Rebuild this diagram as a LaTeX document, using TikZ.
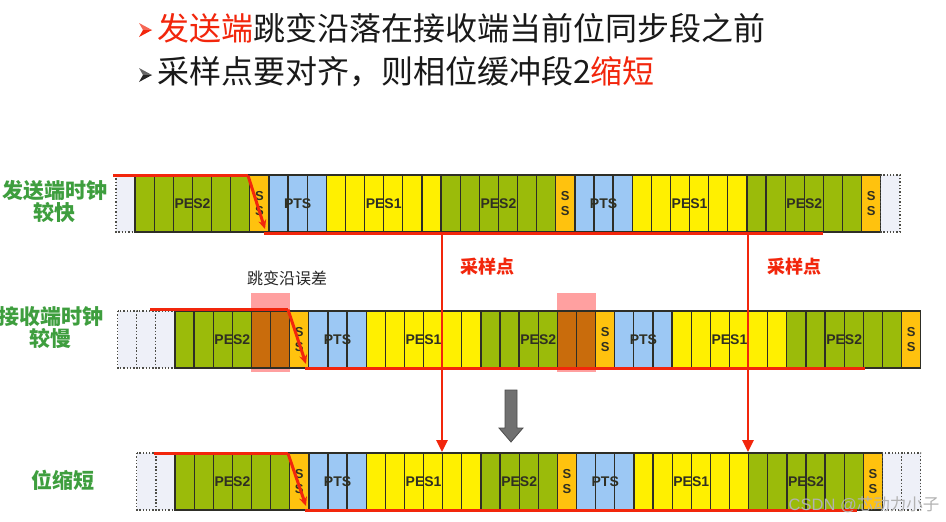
\documentclass[tikz,border=0pt]{standalone}
\usepackage{fontspec}
\setmainfont{Liberation Sans}
\newfontfamily\cjk{Noto Sans CJK SC}
\usetikzlibrary{arrows.meta,calc,backgrounds}
\definecolor{cG}{HTML}{9BBB0A}
\definecolor{cY}{HTML}{FFF000}
\definecolor{cB}{HTML}{9CC8F4}
\definecolor{cS}{HTML}{FFC20E}
\definecolor{cO}{HTML}{C96C0C}
\definecolor{cD}{HTML}{EEF0F8}
\definecolor{redl}{HTML}{F2260C}
\definecolor{greenl}{HTML}{3E9E3E}
\definecolor{pinkl}{HTML}{FFA0A0}
\definecolor{edgec}{HTML}{2E2E26}
\definecolor{lblc}{HTML}{2F2F22}
\definecolor{grayarrow}{HTML}{707070}
\definecolor{bulletk}{HTML}{262626}
\newcommand\mkrow[4]{%
  \foreach \t [count=\i from 0] in {#4}{\node[cellbox,fill=c\t] (#1c\i) at ({#2+\i*19.12},#3) {};}
  \foreach \t [count=\i from 0] in {#4}{\draw[bd\t] (#1c\i.north west) rectangle (#1c\i.south east);}
}
\newcommand\mybullet[3]{% x, y (centre), colour
  \fill[#3!70!white] (#1-6,#2-7) -- (#1+7,#2) -- (#1-2,#2) -- cycle;
  \fill[#3] (#1-6,#2+7) -- (#1+7,#2) -- (#1-2,#2) -- cycle;
}
\begin{document}
\begin{tikzpicture}[x=1pt,y=-1pt,
  cellbox/.style={rectangle,anchor=north west,minimum width=19.12pt,minimum height=57pt,inner sep=0pt,outer sep=0pt,draw=none},
  bdsolid/.style={draw=edgec,line width=1.3pt},
  bdG/.style={bdsolid},bdY/.style={bdsolid},bdB/.style={bdsolid},bdS/.style={bdsolid},bdO/.style={bdsolid},
  bdD/.style={draw=edgec!85,line width=1.3pt,dotted},
  lbl/.style={font=\bfseries\fontsize{14}{14}\selectfont,text=lblc,inner sep=0pt},
  sslbl/.style={font=\bfseries\fontsize{13}{15}\selectfont,text=lblc,align=center,inner sep=0pt},
  redline/.style={draw=redl,line width=3pt},
  redv/.style={draw=redl,line width=2.5pt,-{Triangle[length=12pt,width=11pt]}},
  sidelbl/.style={font=\cjk\bfseries\fontsize{21}{22}\selectfont,text=greenl,align=center,inner sep=0pt},
  samplbl/.style={font=\cjk\bfseries\fontsize{18}{18}\selectfont,text=redl,inner sep=0pt},
  titletxt/.style={font=\cjk\fontsize{32}{32}\selectfont,text=black!90,anchor=west,inner sep=0pt}
]
\useasboundingbox (0,0) rectangle (946,522);

% title
\mybullet{145}{30}{redl}
\node[titletxt] (t1) at (157,28) {\textcolor{redl}{发送端}跳变沿落在接收端当前位同步段之前};
\mybullet{145}{75}{bulletk}
\node[titletxt] (t2) at (157,72) {采样点要对齐，则相位缓冲段2\textcolor{redl}{缩短}};

% side labels
\node[sidelbl] (l1) at (55,201) {发送端时钟\\较快};
\node[sidelbl] (l2) at (51,328) {接收端时钟\\较慢};
\node[sidelbl] (l3) at (63,480) {位缩短};

% row 1
\mkrow{ra}{116}{175}{D,G,G,G,G,G,G,S,B,B,B,Y,Y,Y,Y,Y,Y,G,G,G,G,G,G,S,B,B,B,Y,Y,Y,Y,Y,Y,G,G,G,G,G,G,S,D}
% row 2
\mkrow{rb}{117.6}{311}{D,D,D,G,G,G,G,O,O,S,B,B,B,Y,Y,Y,Y,Y,Y,G,G,G,G,O,O,S,B,B,B,Y,Y,Y,Y,Y,Y,G,G,G,G,G,G,S}
% row 3
\mkrow{rc}{136.8}{453}{D,D,G,G,G,G,G,G,S,B,B,B,Y,Y,Y,Y,Y,Y,G,G,G,G,S,B,B,B,Y,Y,Y,Y,Y,Y,G,G,G,G,G,G,S,D,D}

% white page and pink error windows (behind)
\begin{scope}[on background layer]
  \fill[white] (0,0) rectangle (946,522);
  \fill[pinkl] ($(rbc7.north west)+(0,-18)$) rectangle ($(rbc8.south east)+(0,4)$);
  \fill[pinkl] ($(rbc23.north west)+(0,-18)$) rectangle ($(rbc24.south east)+(0,4)$);
\end{scope}

% labels row 1
\node[lbl] at ($(rac1)!0.5!(rac6)$) {PES2};
\node[sslbl] at (rac7) {S\\S};
\node[lbl] at (rac9) {PTS};
\node[lbl] at ($(rac11)!0.5!(rac16)$) {PES1};
\node[lbl] at ($(rac17)!0.5!(rac22)$) {PES2};
\node[sslbl] at (rac23) {S\\S};
\node[lbl] at (rac25) {PTS};
\node[lbl] at ($(rac27)!0.5!(rac32)$) {PES1};
\node[lbl] at ($(rac33)!0.5!(rac38)$) {PES2};
\node[sslbl] at (rac39) {S\\S};
% labels row 2
\node[lbl] at ($(rbc3)!0.5!(rbc8)$) {PES2};
\node[sslbl] at (rbc9) {S\\S};
\node[lbl] at (rbc11) {PTS};
\node[lbl] at ($(rbc13)!0.5!(rbc18)$) {PES1};
\node[lbl] at ($(rbc19)!0.5!(rbc24)$) {PES2};
\node[sslbl] at (rbc25) {S\\S};
\node[lbl] at (rbc27) {PTS};
\node[lbl] at ($(rbc29)!0.5!(rbc34)$) {PES1};
\node[lbl] at ($(rbc35)!0.5!(rbc40)$) {PES2};
\node[sslbl] at (rbc41) {S\\S};
% labels row 3
\node[lbl] at ($(rcc2)!0.5!(rcc7)$) {PES2};
\node[sslbl] at (rcc8) {S\\S};
\node[lbl] at (rcc10) {PTS};
\node[lbl] at ($(rcc12)!0.5!(rcc17)$) {PES1};
\node[lbl] at ($(rcc18)!0.5!(rcc21)$) {PES2};
\node[sslbl] at (rcc22) {S\\S};
\node[lbl] at (rcc24) {PTS};
\node[lbl] at ($(rcc26)!0.5!(rcc31)$) {PES1};
\node[lbl] at ($(rcc32)!0.5!(rcc37)$) {PES2};
\node[sslbl] at (rcc38) {S\\S};

% red edge lines
\coordinate (a1) at (113,175.5); \coordinate (k1) at (248,175.5); \coordinate (e1) at (265,229);
\coordinate (f1) at (264,233.5); \coordinate (g1) at (823,233.5);
\draw[redline] (a1) -- (k1);
\draw[redline,-{Stealth[length=9pt,width=8pt]}] (k1) -- (e1);
\draw[redline] (f1) -- (g1);

\coordinate (a2) at (150,309.5); \coordinate (k2) at (288,309.5); \coordinate (e2) at (306,364);
\coordinate (f2) at (305,368.5); \coordinate (g2) at (865,368.5);
\draw[redline] (a2) -- (k2);
\draw[redline,-{Stealth[length=9pt,width=8pt]}] (k2) -- (e2);
\draw[redline] (f2) -- (g2);

\coordinate (a3) at (154,453.5); \coordinate (k3) at (288,453.5); \coordinate (e3) at (306,506);
\coordinate (f3) at (305,510.5); \coordinate (g3) at (857,510.5);
\draw[redline] (a3) -- (k3);
\draw[redline,-{Stealth[length=9pt,width=8pt]}] (k3) -- (e3);
\draw[redline] (f3) -- (g3);

% sampling point arrows
\coordinate (s1a) at (442,234); \coordinate (s1b) at (442,452);
\coordinate (s2a) at (748,234); \coordinate (s2b) at (748,452);
\draw[redv] (s1a) -- (s1b);
\draw[redv] (s2a) -- (s2b);
\node[samplbl] (sp1) at (487,267) {采样点};
\node[samplbl] (sp2) at (794,267) {采样点};

% error label
\node[font=\cjk\fontsize{16}{16}\selectfont,text=black!85,inner sep=0pt] (err) at (287,278) {跳变沿误差};

% gray down arrow
\filldraw[fill=grayarrow,draw=black!70,line width=0.8pt]
  (505,390) -- (517,390) -- (517,428) -- (523,428) -- (511,442) -- (499,428) -- (505,428) -- cycle;

% watermark
\node[font=\fontsize{16.5}{16.5}\selectfont,text=black!30,inner sep=0pt] (wm) at (864,505) {CSDN @{\cjk 芯动力小子}};
\end{tikzpicture}
\end{document}
